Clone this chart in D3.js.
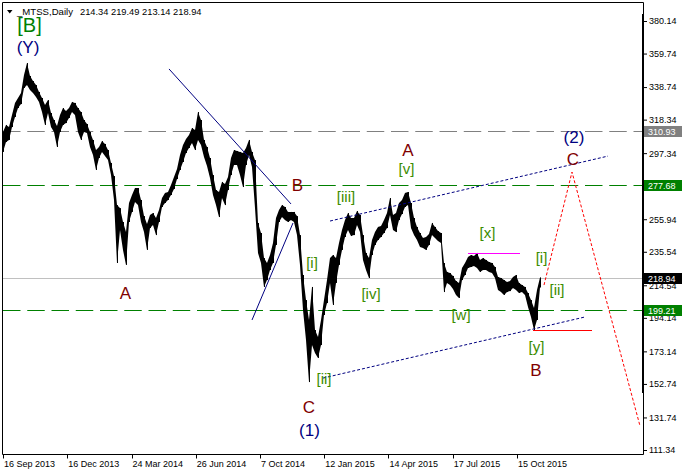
<!DOCTYPE html>
<html>
<head>
<meta charset="utf-8">
<script src="https://cdn.jsdelivr.net/npm/d3@7"></script>
<style>
  html, body { margin: 0; padding: 0; background: #fff; }
  svg { display: block; }
</style>
</head>
<body>
<script>
// MTSS daily price history, high/low per three-bar step
const highs = [
  310.6, 315.0, 313.7, 321.2, 328.8, 331.9, 335.0, 346.3, 353.8, 345.7,
  342.5, 340.0, 335.7, 331.9, 327.5, 330.6, 322.5, 318.1, 314.3, 321.2,
  325.6, 323.7, 325.6, 329.4, 328.8, 325.6, 323.1, 318.1, 315.6, 310.6,
  305.6, 299.3, 301.2, 304.9, 303.1, 299.3, 291.2, 283.0, 264.8, 262.9,
  254.2, 247.9, 266.1, 271.1, 275.5, 275.5, 268.0, 257.9, 252.9, 258.6,
  259.8, 256.7, 261.7, 269.2, 272.4, 273.0, 277.4, 282.4, 287.4, 296.2,
  302.4, 306.2, 308.7, 313.1, 311.8, 323.1, 318.1, 305.6, 301.2, 294.3,
  283.6, 274.2, 273.0, 279.3, 278.0, 282.4, 294.3, 299.3, 298.7, 298.1,
  297.4, 300.6, 305.6, 298.1, 293.0, 253.6, 247.3, 231.6, 228.5, 233.5,
  241.0, 256.7, 261.7, 264.8, 263.6, 260.5, 260.5, 260.5, 257.9, 246.0,
  221.0, 205.3, 192.8, 213.5, 186.5, 182.1, 192.8, 205.3, 217.8, 231.6,
  233.5, 231.6, 241.0, 249.2, 255.4, 259.8, 256.7, 256.7, 261.1, 258.6,
  246.0, 234.8, 231.6, 242.9, 247.9, 251.1, 251.7, 255.4, 259.8, 269.2,
  258.6, 259.8, 266.1, 268.0, 272.4, 273.0, 266.1, 256.7, 251.1, 247.3,
  244.2, 244.8, 246.7, 253.6, 251.1, 248.5, 247.3, 228.5, 222.9, 222.2,
  220.4, 217.2, 216.0, 225.4, 228.5, 232.3, 233.5, 232.9, 234.8, 230.4,
  231.6, 230.4, 229.1, 228.5, 226.0, 219.7, 219.1, 217.8, 216.6, 217.2,
  219.7, 221.0, 216.0, 214.7, 213.5, 209.7, 205.3, 200.3, 211.6, 219.49
];
const lows = [
  298.1, 304.3, 305.6, 313.7, 320.0, 325.6, 328.1, 338.2, 340.0, 336.9,
  335.0, 332.5, 329.4, 323.1, 315.0, 322.5, 313.7, 310.6, 301.2, 310.6,
  315.0, 316.2, 319.4, 323.1, 321.2, 310.6, 305.6, 310.6, 310.0, 301.2,
  296.2, 286.8, 294.3, 298.1, 295.5, 293.0, 283.6, 268.0, 228.5, 249.2,
  236.7, 227.3, 254.2, 260.5, 266.7, 264.8, 254.2, 247.9, 236.7, 250.4,
  252.3, 246.0, 254.2, 263.6, 266.1, 268.0, 271.1, 274.9, 281.1, 286.8,
  291.8, 297.4, 300.6, 303.7, 299.3, 305.6, 302.4, 294.9, 289.3, 281.8,
  271.1, 264.8, 257.3, 269.2, 264.8, 274.2, 283.6, 289.9, 289.9, 283.6,
  276.1, 289.9, 296.2, 288.7, 262.9, 234.8, 228.5, 213.5, 217.8, 224.1,
  228.5, 239.8, 254.2, 257.3, 255.4, 254.2, 255.4, 254.2, 246.0, 227.3,
  199.1, 180.3, 153.9, 177.1, 172.1, 169.0, 177.1, 195.9, 203.4, 216.0,
  202.2, 216.0, 227.3, 236.7, 244.8, 249.2, 245.4, 246.0, 252.3, 247.9,
  230.4, 224.1, 219.1, 233.5, 239.8, 242.9, 244.8, 247.3, 250.4, 258.6,
  249.2, 247.9, 255.4, 259.2, 263.6, 264.8, 250.4, 246.0, 242.9, 238.6,
  237.9, 236.7, 239.8, 246.0, 244.2, 242.3, 241.0, 210.3, 216.0, 214.7,
  212.2, 208.5, 206.6, 217.8, 221.0, 225.4, 226.0, 226.6, 225.4, 222.9,
  224.1, 224.1, 222.9, 222.2, 219.1, 211.6, 210.3, 208.5, 210.3, 210.9,
  212.8, 211.6, 209.7, 210.3, 208.5, 200.9, 194.7, 186.5, 192.8, 213.14
];
// last bar quote
const lastBar = { open: 214.34, high: 219.49, low: 213.14, close: 218.94 };

const dateLabels = ["16 Sep 2013", "16 Dec 2013", "24 Mar 2014", "26 Jun 2014", "7 Oct 2014",
                    "12 Jan 2015", "14 Apr 2015", "17 Jul 2015", "15 Oct 2015"];
const priceTicks = [380.14, 359.74, 338.74, 318.34, 297.34, 276.94, 255.94, 235.54,
                    214.54, 194.14, 173.14, 152.74, 131.74, 111.34];
const resistanceLevel = 310.93;
const targetLevels = [277.68, 199.21];

// wave markup: [bar, price, text]
const waveLetters = [[122.5, 205.9, "A"], [294.5, 273.8, "B"], [405, 295.6, "A"],
                     [306, 134.7, "C"], [533, 157.7, "B"], [570, 289.9, "C"]];
const degreeLabels = [[25, 359.8, "(Y)"], [306.5, 120.3, "(1)"], [571, 303.7, "(2)"]];
const bracketB = [[26.5, 373.5, "[B]"]];
const minorLabels = [[309, 225.4, "[i]"], [343, 267.0, "[iii]"], [368, 205.9, "[iv]"],
                     [403.5, 284.3, "[v]"], [321, 152.7, "[ii]"], [458, 192.8, "[w]"],
                     [484.5, 244.2, "[x]"], [538.5, 228.5, "[i]"], [554, 208.5, "[ii]"],
                     [533.5, 172.7, "[y]"]];
// trend and channel lines: [bar1, price1, bar2, price2]
const trendLines = [[166, 350.1, 288, 265.5], [249, 192.8, 290, 253.6]];
const channelLines = [[327, 254.8, 605, 295.5], [320, 156.4, 582, 194.7]];
const rangeTop = [465, 517, 234.8];
const rangeBottom = [530, 589, 186.5];
const projection = [[541, 214.7], [569, 285.5], [637, 126.4]];

const W = 682, H = 471;
const plotLeft = 2.5, plotRight = 643, plotTop = 2.5, plotBottom = 454.5;
const barsPerStep = 3, barsPerLabel = 64.25;

const svg = d3.select("body").append("svg").attr("width", W).attr("height", H);

const x = d3.scaleLinear().domain([0, 640]).range([3, 643]);
const y = d3.scaleLinear().domain([111.34, 380.14]).range([450, 21]);

const axisFont = "'Liberation Sans', Arial, sans-serif";
const px = v => Math.round(y(v)) + 0.5;

// level lines
svg.append("line").attr("x1", 3).attr("x2", plotRight).attr("y1", px(resistanceLevel))
  .attr("y2", px(resistanceLevel)).attr("stroke", "#808080")
  .attr("stroke-dasharray", "17.5,6.75");
svg.selectAll("line.target").data(targetLevels).enter().append("line").attr("class", "target")
  .attr("x1", 3).attr("x2", plotRight)
  .attr("y1", d => px(d)).attr("y2", d => px(d))
  .attr("stroke", "#008000").attr("stroke-dasharray", "17.5,6.75");
svg.append("line").attr("x1", 3).attr("x2", plotRight)
  .attr("y1", px(lastBar.close)).attr("y2", px(lastBar.close))
  .attr("stroke", "#c0c0c0");

// price bars
const idx = d3.range(highs.length);
const area = d3.area()
  .x(i => x(i * barsPerStep))
  .y0(i => y(lows[i]))
  .y1(i => y(highs[i]));
svg.append("path").datum(idx).attr("d", area).attr("fill", "#000");
svg.selectAll("line.bar").data(idx).enter().append("line").attr("class", "bar")
  .attr("x1", i => Math.round(x(i * barsPerStep)) + 0.5).attr("x2", i => Math.round(x(i * barsPerStep)) + 0.5)
  .attr("y1", i => y(highs[i])).attr("y2", i => y(lows[i]))
  .attr("stroke", "#000").attr("stroke-width", 1);

// trend lines
svg.selectAll("line.trend").data(trendLines).enter().append("line").attr("class", "trend")
  .attr("x1", d => x(d[0])).attr("y1", d => y(d[1])).attr("x2", d => x(d[2])).attr("y2", d => y(d[3]))
  .attr("stroke", "#000080").attr("stroke-width", 1);
svg.selectAll("line.channel").data(channelLines).enter().append("line").attr("class", "channel")
  .attr("x1", d => x(d[0])).attr("y1", d => y(d[1])).attr("x2", d => x(d[2])).attr("y2", d => y(d[3]))
  .attr("stroke", "#000080").attr("stroke-width", 1).attr("stroke-dasharray", "3,2");
svg.append("line").attr("x1", x(rangeTop[0])).attr("x2", x(rangeTop[1]))
  .attr("y1", px(rangeTop[2])).attr("y2", px(rangeTop[2]))
  .attr("stroke", "#ff00ff");
svg.append("line").attr("x1", x(rangeBottom[0])).attr("x2", x(rangeBottom[1]))
  .attr("y1", px(rangeBottom[2])).attr("y2", px(rangeBottom[2]))
  .attr("stroke", "#ff0000");
svg.append("path")
  .attr("d", d3.line().x(d => x(d[0])).y(d => y(d[1]))(projection))
  .attr("fill", "none").attr("stroke", "#ff0000").attr("stroke-width", 1).attr("stroke-dasharray", "3,2");

// wave labels
const labelFont = "'Liberation Sans', Arial, sans-serif";
function labels(data, size, color) {
  svg.append("g").selectAll("text").data(data).enter().append("text")
    .attr("x", d => x(d[0])).attr("y", d => y(d[1]))
    .attr("text-anchor", "middle").attr("font-family", labelFont).attr("font-size", size)
    .attr("fill", color).text(d => d[2]);
}
labels(waveLetters, 17, "#800000");
labels(degreeLabels, 17, "#000080");
labels(bracketB, 20, "#008000");
labels(minorLabels, 15, "#3c8c00");

// frame
svg.append("line").attr("x1", plotLeft).attr("x2", plotLeft).attr("y1", plotTop).attr("y2", plotBottom).attr("stroke", "#000");
svg.append("line").attr("x1", plotLeft).attr("x2", plotRight + 0.5).attr("y1", plotTop).attr("y2", plotTop).attr("stroke", "#000");
svg.append("line").attr("x1", plotLeft).attr("x2", plotRight + 0.5).attr("y1", plotBottom).attr("y2", plotBottom).attr("stroke", "#000");
svg.append("line").attr("x1", plotRight + 0.5).attr("x2", plotRight + 0.5).attr("y1", plotTop).attr("y2", plotBottom).attr("stroke", "#000");
svg.append("rect").attr("x", plotRight - 1).attr("y", 14).attr("width", 2).attr("height", 379).attr("fill", "#000");

// price axis
const yAxis = d3.axisRight(y).tickValues(priceTicks).tickSize(3).tickPadding(2).tickFormat(d3.format(".2f"));
const gy = svg.append("g").attr("transform", `translate(${plotRight + 1},0)`).call(yAxis);
gy.select(".domain").remove();
gy.selectAll("text").attr("font-family", axisFont).attr("font-size", 9).attr("fill", "#000");
gy.selectAll(".tick line").attr("stroke", "#000");

// price boxes
function priceBox(value, bg) {
  const yy = Math.round(y(value));
  svg.append("rect").attr("x", plotRight + 1).attr("y", yy - 5).attr("width", W - plotRight - 1).attr("height", 11).attr("fill", bg);
  svg.append("text").attr("x", plotRight + 5).attr("y", yy + 3.5).attr("font-family", axisFont)
    .attr("font-size", 9).attr("fill", "#fff").text(value.toFixed(2));
}
priceBox(resistanceLevel, "#808080");
targetLevels.forEach(v => priceBox(v, "#008000"));
priceBox(lastBar.close, "#000");

// time axis
const tickBars = dateLabels.map((d, i) => i * barsPerLabel);
const gx = svg.append("g");
gx.selectAll("line").data(tickBars).enter().append("line")
  .attr("x1", d => Math.round(x(d)) + 0.5).attr("x2", d => Math.round(x(d)) + 0.5)
  .attr("y1", plotBottom).attr("y2", plotBottom + 4).attr("stroke", "#000");
gx.selectAll("text").data(dateLabels).enter().append("text")
  .attr("x", (d, i) => x(tickBars[i]) + 1).attr("y", 467)
  .attr("font-family", axisFont).attr("font-size", 9).attr("fill", "#000").text(d => d);

// header
svg.append("path").attr("d", "M7,10 L12.5,10 L9.75,13.5 Z").attr("fill", "#000");
svg.append("text").attr("x", 17).attr("y", 14.5).attr("font-family", axisFont).attr("font-size", 9.6)
  .attr("fill", "#000").text("_MTSS,Daily");
svg.append("text").attr("x", 80).attr("y", 14.5).attr("font-family", axisFont).attr("font-size", 9.3)
  .attr("fill", "#000").text([lastBar.open, lastBar.high, lastBar.low, lastBar.close].map(v => v.toFixed(2)).join(" "));
</script>
</body>
</html>
